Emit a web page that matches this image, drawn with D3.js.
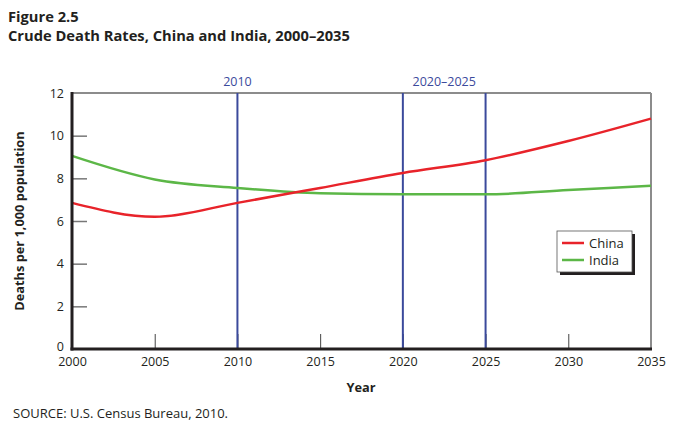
<!DOCTYPE html>
<html><head><meta charset="utf-8">
<script src="https://cdn.jsdelivr.net/npm/d3@7"></script>
<style>body{margin:0;background:#fff;} svg{display:block;} text{font-family:"Open Sans",sans-serif;fill:#231f20;}</style>
</head><body>
<svg id="c" width="673" height="426"></svg>
<script>
const years = [2000, 2005, 2010, 2015, 2020, 2025, 2030, 2035];
const china = [6.85, 6.2, 6.85, 7.55, 8.25, 8.85, 9.75, 10.8];
const india = [9.05, 7.95, 7.55, 7.3, 7.25, 7.25, 7.45, 7.65];
const yTicks = [0, 2, 4, 6, 8, 10, 12];
const xTicks = [2000, 2005, 2010, 2015, 2020, 2025, 2030, 2035];
const markerYears = [2010, 2020, 2025];
const markerLabels = [{text: "2010", from: 2010, to: 2010}, {text: "2020–2025", from: 2020, to: 2025}];
const seriesNames = ["China", "India"];
const seriesColors = ["#e8232a", "#5cb747"];

const svg = d3.select("#c");
const L = 72, R = 651, T = 93, B = 349;
const x = d3.scaleLinear().domain([2000, 2035]).range([L, R]);
const y = d3.scaleLinear().domain([0, 12]).range([B, T]);

// titles
svg.append("text").attr("x", 8).attr("y", 22).attr("font-size", 14.7).attr("font-weight", "bold").text("Figure 2.5");
svg.append("text").attr("x", 8).attr("y", 41).attr("font-size", 14.7).attr("font-weight", "bold").text("Crude Death Rates, China and India, 2000–2035");

// frame top/right
svg.append("line").attr("x1", L).attr("x2", R).attr("y1", T).attr("y2", T).attr("stroke", "#8c8c8c").attr("stroke-width", 2);
svg.append("line").attr("x1", R).attr("x2", R).attr("y1", T).attr("y2", B).attr("stroke", "#8c8c8c").attr("stroke-width", 2);

// y ticks inside
const yAxis = d3.axisRight(y).tickValues(yTicks.filter(d => d > 0 && d < 12)).tickSize(15).tickFormat("");
const gy = svg.append("g").attr("transform", `translate(${L},0)`).call(yAxis);
gy.select(".domain").remove();
gy.selectAll(".tick line").attr("stroke", "#777").attr("stroke-width", 1.5);

// y tick labels
const gyl = svg.append("g").attr("transform", `translate(${L},0)`).call(d3.axisLeft(y).tickValues(yTicks).tickSize(0).tickPadding(8));
gyl.select(".domain").remove();
gyl.selectAll("text").attr("font-size", 12.5).attr("font-family", "Open Sans, sans-serif").attr("fill", "#231f20");
gyl.selectAll(".tick").filter(d => d === 0).select("text").attr("dy", "0.1em");

// x ticks inside
const gx = svg.append("g").attr("transform", `translate(0,${B})`).call(d3.axisTop(x).tickValues(xTicks.filter(d => d > 2000 && d < 2035)).tickSize(15).tickFormat(""));
gx.select(".domain").remove();
gx.selectAll(".tick line").attr("stroke", "#444").attr("stroke-width", 1);

const gxl = svg.append("g").attr("transform", `translate(0,${B})`).call(d3.axisBottom(x).tickValues(xTicks).tickSize(0).tickPadding(8).tickFormat(d3.format("d")));
gxl.select(".domain").remove();
gxl.selectAll("text").attr("font-size", 12.5).attr("font-family", "Open Sans, sans-serif").attr("fill", "#231f20");

// marker lines
svg.selectAll(".mk").data(markerYears).join("line")
  .attr("x1", d => x(d)).attr("x2", d => x(d)).attr("y1", T).attr("y2", B)
  .attr("stroke", "#3b4a9c").attr("stroke-width", 2);
svg.selectAll(".mkl").data(markerLabels).join("text")
  .attr("x", d => (x(d.from) + x(d.to)) / 2).attr("y", 86).attr("text-anchor", "middle")
  .attr("font-size", 12.5).style("fill", "#3b4a9c").text(d => d.text);

// lines
const line = d3.line().x((d, i) => x(years[i])).y(d => y(d)).curve(d3.curveMonotoneX);
[india, china].forEach((s, k) => {
  const idx = k === 0 ? 1 : 0;
  svg.append("path").attr("d", line(s)).attr("fill", "none").attr("stroke", seriesColors[idx]).attr("stroke-width", 2.5);
});

// axes left & bottom
svg.append("line").attr("x1", L).attr("x2", L).attr("y1", T - 1).attr("y2", B + 1.5).attr("stroke", "#231f20").attr("stroke-width", 3);
svg.append("line").attr("x1", L - 1.5).attr("x2", R + 1).attr("y1", B).attr("y2", B).attr("stroke", "#231f20").attr("stroke-width", 3);

// axis titles
svg.append("text").attr("transform", `translate(24,${(T + B) / 2}) rotate(-90)`).attr("text-anchor", "middle")
  .attr("font-size", 12.8).attr("font-weight", "bold").text("Deaths per 1,000 population");
svg.append("text").attr("x", 361).attr("y", 392).attr("text-anchor", "middle").attr("font-size", 12.8).attr("font-weight", "bold").text("Year");

// legend
const lg = svg.append("g").attr("transform", "translate(557,231)");
lg.append("rect").attr("x", 3).attr("y", 3).attr("width", 75).attr("height", 41).attr("fill", "#231f20");
lg.append("rect").attr("x", 0).attr("y", 0).attr("width", 75).attr("height", 41).attr("fill", "#fff").attr("stroke", "#555").attr("stroke-width", 0.8);
seriesNames.forEach((n, i) => {
  lg.append("line").attr("x1", 5).attr("x2", 27).attr("y1", 12 + i * 17).attr("y2", 12 + i * 17).attr("stroke", seriesColors[i]).attr("stroke-width", 2.5);
  lg.append("text").attr("x", 32).attr("y", 16.5 + i * 17).attr("font-size", 13).text(n);
});

// source
svg.append("text").attr("x", 13).attr("y", 418).attr("font-size", 13).text("SOURCE: U.S. Census Bureau, 2010.");
</script>
</body></html>
